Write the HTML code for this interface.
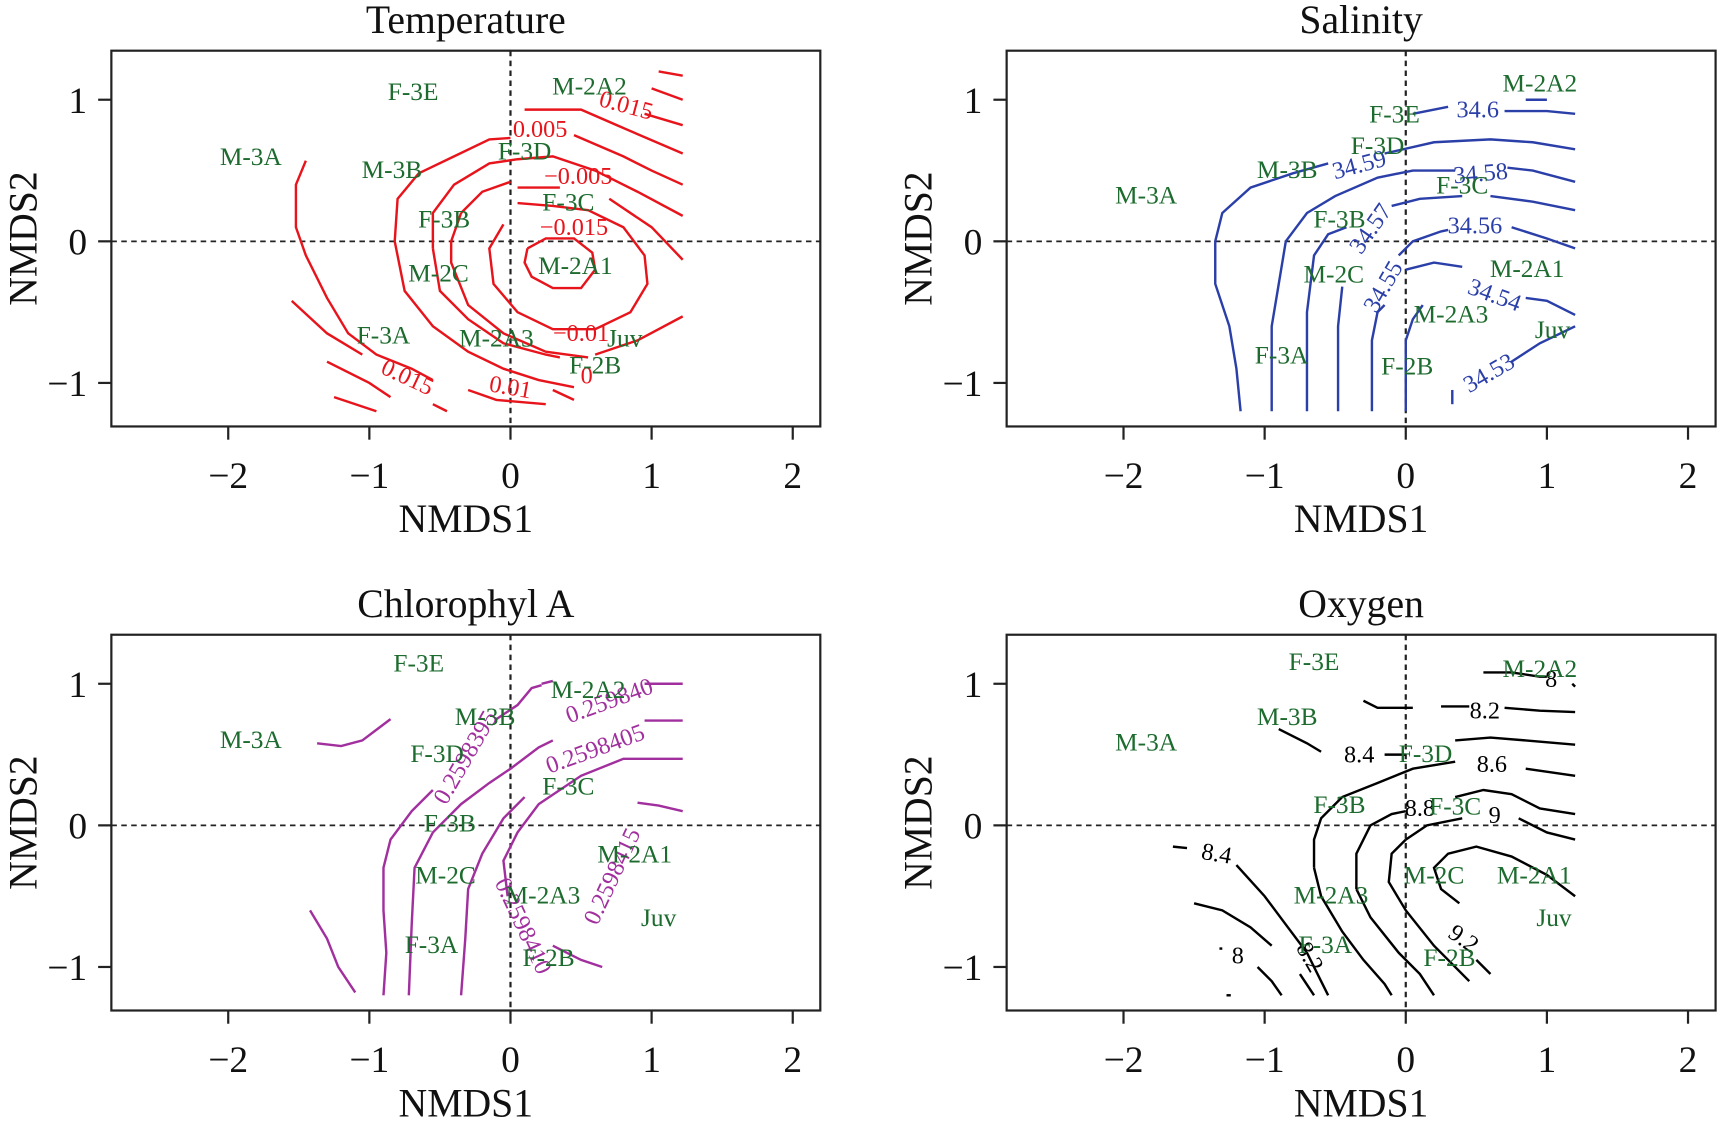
<!DOCTYPE html>
<html><head><meta charset="utf-8"><title>NMDS contour panels</title>
<style>
html,body{margin:0;padding:0;background:#fff;}
svg{display:block;}
text{font-family:"Liberation Serif",serif;}
</style></head>
<body>
<svg id="chart" width="1720" height="1124" viewBox="0 0 1560 1020" preserveAspectRatio="none" xmlns="http://www.w3.org/2000/svg"></svg>
<script>
// ---- data ----
const xTicks = [-2, -1, 0, 1, 2];
const yTicks = [1, 0, -1];
const siteNames = ["F-3E","M-2A2","M-3A","M-3B","F-3D","F-3C","F-3B","M-2C","M-2A1","F-3A","M-2A3","Juv","F-2B"];
const tempSiteX = [-0.69,0.56,-1.84,-0.84,0.10,0.41,-0.47,-0.51,0.46,-0.90,-0.10,0.81,0.60];
const tempSiteY = [1.06,1.10,0.60,0.51,0.64,0.28,0.16,-0.22,-0.17,-0.66,-0.68,-0.68,-0.87];
const salSiteX = [-0.08,0.95,-1.84,-0.84,-0.20,0.40,-0.47,-0.51,0.86,-0.88,0.32,1.04,0.01];
const salSiteY = [0.90,1.12,0.33,0.51,0.68,0.40,0.16,-0.23,-0.19,-0.80,-0.51,-0.62,-0.88];
const chlSiteX = [-0.65,0.55,-1.84,-0.18,-0.52,0.41,-0.43,-0.46,0.88,-0.56,0.23,1.05,0.27];
const chlSiteY = [1.15,0.96,0.61,0.77,0.51,0.28,0.02,-0.35,-0.20,-0.84,-0.49,-0.65,-0.93];
const oxySiteX = [-0.65,0.95,-1.84,-0.84,0.14,0.35,-0.47,0.20,0.91,-0.57,-0.53,1.05,0.31];
const oxySiteY = [1.16,1.11,0.59,0.77,0.51,0.14,0.15,-0.35,-0.35,-0.84,-0.49,-0.65,-0.93];

const tempLines = [
 [[0.12,-0.05],[0.25,0.02],[0.45,0.02],[0.58,-0.08],[0.6,-0.2],[0.5,-0.33],[0.3,-0.33],[0.15,-0.25],[0.1,-0.15],[0.12,-0.05]],
 [[-0.05,0.12],[-0.15,-0.05],[-0.12,-0.3],[0.05,-0.5],[0.3,-0.62],[0.6,-0.62],[0.85,-0.5],[0.97,-0.3],[0.95,-0.1],[0.8,0.1],[0.55,0.22],[0.3,0.25],[0.05,0.27]],
 [[-0.35,0.2],[-0.42,0.0],[-0.42,-0.15],[-0.3,-0.45],[-0.05,-0.65],[0.25,-0.78],[0.55,-0.82]],
 [[-0.35,0.2],[-0.2,0.35],[0.0,0.42]],
 [[0.05,0.38],[0.35,0.38]],[[0.7,0.3],[1.0,0.1],[1.22,-0.13]],
 [[-0.55,-0.05],[-0.55,0.2],[-0.4,0.4],[-0.15,0.55],[0.05,0.58],[0.3,0.6],[0.6,0.5],[0.9,0.35],[1.22,0.18]],
 [[-0.55,-0.05],[-0.5,-0.35],[-0.3,-0.55],[-0.05,-0.72],[0.25,-0.8],[0.35,-0.82]],
 [[0.6,-0.8],[0.9,-0.7],[1.22,-0.53]],
 [[-0.82,0.0],[-0.8,0.3],[-0.65,0.48],[-0.4,0.6],[-0.15,0.72],[0.0,0.73]],
 [[0.45,0.75],[0.8,0.6],[1.0,0.5],[1.22,0.4]],
 [[-0.82,0.0],[-0.75,-0.35],[-0.55,-0.6],[-0.3,-0.78],[-0.05,-0.9],[0.2,-0.98],[0.45,-1.03]],
 [[-1.45,0.57],[-1.52,0.4],[-1.52,0.1],[-1.45,-0.1],[-1.3,-0.4],[-1.15,-0.65],[-0.95,-0.8],[-0.7,-0.9],[-0.55,-0.98]],
 [[-0.3,-1.05],[-0.1,-1.12],[0.25,-1.15]],[[0.3,-1.05],[0.45,-1.12]],
 [[0.1,0.93],[0.5,0.93],[0.8,0.8],[1.22,0.62]],
 [[-1.55,-0.42],[-1.3,-0.65],[-1.05,-0.8]],
 [[-1.3,-0.85],[-1.0,-1.0],[-0.85,-1.1]],[[-0.55,-1.15],[-0.45,-1.2]],
 [[-1.25,-1.1],[-0.95,-1.2]],
 [[0.95,0.9],[1.22,0.82]],[[1.0,1.08],[1.22,1.0]],[[1.05,1.2],[1.22,1.17]]
];
const tempLabels = [["0.005",0.21,0.79,0],["-0.005",0.48,0.46,0],["-0.015",0.45,0.10,0],["-0.01",0.5,-0.65,0],["0.01",0.0,-1.03,10],["0.015",-0.73,-0.96,25],["0.015",0.82,0.96,15],["0",0.54,-0.95,0]];

const salLines = [
 [[-1.17,-1.2],[-1.2,-0.9],[-1.25,-0.6],[-1.35,-0.3],[-1.35,0.0],[-1.3,0.2],[-1.1,0.38],[-0.8,0.48],[-0.55,0.55]],
 [[-0.15,0.62],[0.2,0.7],[0.6,0.72],[0.9,0.7],[1.2,0.65]],
 [[0.05,0.9],[0.3,0.95]],[[0.7,0.92],[1.0,0.92],[1.2,0.9]],[[0.85,1.0],[1.0,1.0]],
 [[-0.95,-1.2],[-0.95,-0.6],[-0.9,-0.3],[-0.85,0.0],[-0.7,0.2],[-0.5,0.32],[-0.2,0.45],[0.05,0.5],[0.35,0.5]],
 [[0.72,0.52],[0.9,0.5],[1.2,0.42]],
 [[-0.7,-1.2],[-0.7,-0.5],[-0.65,-0.1],[-0.55,0.05],[-0.42,0.1]],
 [[-0.1,0.25],[0.1,0.3],[0.4,0.32]],[[0.6,0.32],[0.9,0.28],[1.2,0.22]],
 [[-0.48,-1.2],[-0.48,-0.6],[-0.45,-0.32]],
 [[-0.05,-0.1],[0.05,0.0],[0.25,0.07],[0.3,0.08]],[[0.75,0.1],[1.0,0.02],[1.2,-0.05]],
 [[-0.24,-1.2],[-0.24,-0.7],[-0.2,-0.5],[-0.15,-0.45]],
 [[0.0,-0.2],[0.2,-0.15],[0.4,-0.18]],[[0.85,-0.4],[1.0,-0.42],[1.2,-0.52]],
 [[0.0,-1.2],[0.0,-0.7],[0.05,-0.55],[0.12,-0.45]],
 [[0.33,-1.15],[0.33,-1.05]],[[0.75,-0.85],[0.95,-0.72],[1.2,-0.6]]
];
const salLabels = [["34.6",0.51,0.93,0],["34.59",-0.33,0.54,-15],["34.58",0.53,0.48,-5],["34.57",-0.25,0.09,-55],["34.56",0.49,0.11,0],["34.55",-0.16,-0.32,-60],["34.54",0.63,-0.38,20],["34.53",0.59,-0.93,-30]];

const chlLines = [
 [[-1.42,-0.6],[-1.3,-0.8],[-1.22,-1.0],[-1.1,-1.18]],
 [[-1.37,0.58],[-1.2,0.56],[-1.05,0.6],[-0.85,0.75]],
 [[-0.9,-1.2],[-0.88,-0.9],[-0.9,-0.6],[-0.9,-0.3],[-0.85,-0.1],[-0.7,0.1],[-0.55,0.25]],
 [[-0.1,0.75],[0.05,0.85],[0.15,0.97],[0.22,0.99]],
 [[-0.72,-1.2],[-0.7,-0.7],[-0.68,-0.3],[-0.55,-0.05],[-0.35,0.15],[-0.15,0.3],[0.0,0.4],[0.2,0.55],[0.3,0.6]],
 [[0.22,1.0],[0.3,1.02]],[[0.95,1.0],[1.22,1.0]],[[0.95,0.74],[1.22,0.74]],
 [[-0.35,-1.2],[-0.32,-0.8],[-0.3,-0.45],[-0.2,-0.2],[-0.05,0.05],[0.1,0.2]],
 [[-0.02,-0.5],[-0.05,-0.25],[0.05,-0.05],[0.2,0.15],[0.5,0.35],[0.8,0.47],[1.22,0.47]],
 [[0.9,0.16],[1.05,0.14],[1.22,0.1]],
 [[0.3,-0.85],[0.5,-0.95],[0.65,-1.0]]
];
const chlLabels = [["0.2598395",-0.32,0.48,-60],["0.259840",0.70,0.88,-20],["0.2598405",0.60,0.54,-20],["0.2598410",0.09,-0.71,65],["0.2598415",0.72,-0.36,-65]];

const oxyLines = [
 [[0.55,1.08],[0.75,1.08],[0.95,1.05],[1.0,1.05]],[[1.18,1.0],[1.2,0.98]],
 [[-0.3,0.88],[-0.2,0.83],[0.05,0.83]],[[0.25,0.84],[0.45,0.84]],[[0.7,0.83],[0.95,0.81],[1.2,0.8]],
 [[-0.9,0.68],[-0.7,0.58],[-0.6,0.52]],[[-0.15,0.5],[0.0,0.5]],[[0.35,0.6],[0.6,0.62],[0.85,0.6],[1.2,0.57]],
 [[-0.65,-0.3],[-0.65,-0.1],[-0.6,0.05],[-0.45,0.2],[-0.2,0.3],[0.05,0.4],[0.35,0.45]],[[0.85,0.4],[1.2,0.35]],
 [[-0.65,-0.3],[-0.6,-0.5],[-0.45,-0.75],[-0.3,-0.95],[-0.15,-1.12],[-0.1,-1.2]],
 [[-0.35,-0.45],[-0.35,-0.2],[-0.25,0.0],[-0.1,0.08],[0.0,0.1]],[[0.35,0.2],[0.55,0.25],[0.75,0.22],[0.95,0.12],[1.2,0.08]],
 [[-0.35,-0.45],[-0.25,-0.65],[-0.05,-0.9],[0.1,-1.05],[0.2,-1.2]],
 [[0.0,-0.1],[0.15,0.0],[0.4,0.05]],[[0.8,0.05],[1.0,-0.05],[1.2,-0.1]],
 [[0.0,-0.1],[-0.1,-0.2],[-0.12,-0.4],[0.0,-0.6],[0.2,-0.85],[0.45,-1.1]],
 [[0.38,-0.55],[0.25,-0.45],[0.2,-0.3],[0.3,-0.2],[0.5,-0.15],[0.75,-0.22],[1.0,-0.35],[1.2,-0.5]],
 [[0.5,-0.95],[0.6,-1.05]],
 [[-1.65,-0.15],[-1.55,-0.16]],[[-1.2,-0.28],[-1.0,-0.5],[-0.85,-0.7],[-0.7,-0.9],[-0.6,-1.1],[-0.55,-1.2]],
 [[-1.5,-0.55],[-1.3,-0.6],[-1.1,-0.72],[-0.95,-0.85]],[[-0.75,-1.05],[-0.65,-1.2]],
 [[-1.32,-0.87],[-1.3,-0.87]],[[-1.05,-1.0],[-0.95,-1.1],[-0.88,-1.2]],[[-1.27,-1.2],[-1.24,-1.2]]
];
const oxyLabels = [["8",1.03,1.03,0],["8.2",0.56,0.81,0],["8.4",-0.33,0.50,0],["8.6",0.61,0.43,0],["8.8",0.1,0.12,0],["9",0.63,0.07,0],["9.2",0.41,-0.8,35],["8.4",-1.34,-0.2,10],["8.2",-0.68,-0.93,60],["8",-1.19,-0.92,0]];

// ---- drawing ----
const NS = "http://www.w3.org/2000/svg";
const svg = document.getElementById("chart");
function mk(tag, attrs, parent){const e=document.createElementNS(NS,tag);for(const k in attrs)e.setAttribute(k,attrs[k]);(parent||svg).appendChild(e);return e;}

const panels = [
 {title:"Temperature", key:"temperature", bx:101, by:46, x0:463, y0:219, sx:tempSiteX, sy:tempSiteY, lines:tempLines, labels:tempLabels, col:"#e8141c"},
 {title:"Salinity", key:"salinity", bx:913, by:46, x0:1275, y0:219, sx:salSiteX, sy:salSiteY, lines:salLines, labels:salLabels, col:"#2b3fa8"},
 {title:"Chlorophyl A", key:"chlorophyll", bx:101, by:576, x0:463, y0:749, sx:chlSiteX, sy:chlSiteY, lines:chlLines, labels:chlLabels, col:"#a1309e"},
 {title:"Oxygen", key:"oxygen", bx:913, by:576, x0:1275, y0:749, sx:oxySiteX, sy:oxySiteY, lines:oxyLines, labels:oxyLabels, col:"#000000"}
];
const BW = 643, BH = 341, UX = 128, UY = 128.5;

panels.forEach(p => {
  const g = mk("g", {});
  
  
  const X = v => p.x0 + v*UX;
  const Y = v => p.y0 - v*UY;
  const t = mk("text", {x:p.bx+BW/2, y:p.by-16, "text-anchor":"middle", "font-size":36, fill:"#111"}, g);
  t.textContent = p.title;
  
  
  const zv = mk("line", {x1:X(0), x2:X(0), y1:p.by, y2:p.by+BH, stroke:"#222", "stroke-width":2, "stroke-dasharray":"5 4"}, g);
  
  
  const zh = mk("line", {x1:p.bx, x2:p.bx+BW, y1:Y(0), y2:Y(0), stroke:"#222", "stroke-width":1.6, "stroke-dasharray":"5 4"}, g);
  
  
  p.lines.forEach(ln => {
    const d = ln.map((pt,i)=>(i?"L":"M")+X(pt[0]).toFixed(1)+","+Y(pt[1]).toFixed(1)).join(" ");
    const path = mk("path", {d:d, fill:"none", stroke:p.col, "stroke-width":2.2}, g);
    
    
  });
  p.labels.forEach(l => {
    const tx = mk("text", {x:X(l[1]), y:Y(l[2])+7, "text-anchor":"middle", "font-size":22, fill:p.col, transform:`rotate(${l[3]} ${X(l[1])} ${Y(l[2])})`}, g);
    tx.textContent = l[0].replace("-","\u2212");
    
    
  });
  siteNames.forEach((n,i) => {
    const tx = mk("text", {x:X(p.sx[i]), y:Y(p.sy[i])+8, "text-anchor":"middle", "font-size":23, fill:"#1d6b2e"}, g);
    tx.textContent = n;
    
    
  });
  const box = mk("rect", {x:p.bx, y:p.by, width:BW, height:BH, fill:"none", stroke:"#222", "stroke-width":2}, g);
  
  
  xTicks.forEach(v => {
    const tk = mk("line", {x1:X(v), x2:X(v), y1:p.by+BH, y2:p.by+BH+12, stroke:"#222", "stroke-width":2}, g);
    
    
    const tl = mk("text", {x:X(v), y:p.by+BH+56, "text-anchor":"middle", "font-size":34, fill:"#111"}, g);
    tl.textContent = v < 0 ? "\u2212" + Math.abs(v) : String(v);
    
    
  });
  yTicks.forEach(v => {
    const tk = mk("line", {x1:p.bx-12, x2:p.bx, y1:Y(v), y2:Y(v), stroke:"#222", "stroke-width":2}, g);
    
    
    const tl = mk("text", {x:p.bx-22, y:Y(v)+12, "text-anchor":"end", "font-size":34, fill:"#111"}, g);
    tl.textContent = v < 0 ? "\u2212" + Math.abs(v) : String(v);
    
    
  });
  const xt = mk("text", {x:p.bx+BW/2, y:p.by+BH+96, "text-anchor":"middle", "font-size":36, fill:"#111"}, g);
  xt.textContent = "NMDS1";
  
  
  const yx = p.bx-68, yy = p.by+BH/2;
  const yt = mk("text", {x:yx, y:yy, "text-anchor":"middle", "font-size":36, fill:"#111", transform:`rotate(-90 ${yx} ${yy})`}, g);
  yt.textContent = "NMDS2";
  
  
});
</script>
</body></html>
